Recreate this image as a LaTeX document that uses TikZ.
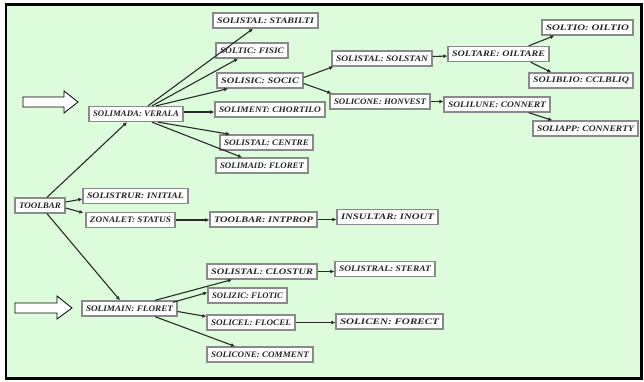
\documentclass[tikz,border=0pt]{standalone}
\usepackage{fontspec}
\setmainfont{Liberation Serif}
\usetikzlibrary{calc,arrows.meta}
\definecolor{panel}{HTML}{DCFCDC}
\definecolor{boxline}{HTML}{8A8A8A}
\definecolor{wire}{HTML}{2A2A2A}
\tikzset{
  box/.style={draw=boxline, line width=1.3pt, fill=white, inner sep=0pt,
    minimum height=15pt, font=\bfseries\itshape, text=black!85},
  wire/.style={draw=wire, line width=1.1pt, -{Latex[length=4pt,width=4pt]}},
  hollow/.style={draw=black, line width=0.8pt, fill=white}
}
% a labelled box whose text is stretched to the box width
\newcommand\nodebox[4]{%
  \node[box, minimum width=#2pt] (#1) at #3
    {\resizebox{\dimexpr #2pt-8pt\relax}{5.6pt}{#4}};}
\begin{document}
\begin{tikzpicture}[x=1pt,y=-1pt]
\useasboundingbox (0,0) rectangle (644,381);
% panel and frame
\fill[white] (0,0) rectangle (644,381);
\draw[fill=panel, line width=2.6pt] (6,4.5) rectangle (641.5,378.5);

% pointer arrows
\draw[hollow] (23,97) -- (64,97) -- (64,91) -- (78,102) -- (64,113) -- (64,107) -- (23,107) -- cycle;
\draw[hollow] (15,303) -- (57,303) -- (57,296) -- (72,308) -- (57,319) -- (57,313) -- (15,313) -- cycle;

% nodes
\nodebox{root}{50}{(40,205.5)}{TOOLBAR}
\nodebox{vera}{94}{(136,114)}{SOLIMADA: VERALA}
\nodebox{main}{95}{(129.5,308.5)}{SOLIMAIN: FLORET}
\nodebox{init}{105}{(135.5,196)}{SOLISTRUR: INITIAL}
\nodebox{stat}{89}{(130.5,220)}{ZONALET: STATUS}
\nodebox{intp}{107}{(263.5,219.5)}{TOOLBAR: INTPROP}
\nodebox{inout}{101}{(387.5,217)}{INSULTAR: INOUT}
\nodebox{stab}{105}{(265.5,20.5)}{SOLISTAL: STABILTI}
\nodebox{fisic}{72}{(252,50.5)}{SOLTIC: FISIC}
\nodebox{socic}{86}{(260,80.5)}{SOLISIC: SOCIC}
\nodebox{chort}{110}{(270,109.5)}{SOLIMENT: CHORTILO}
\nodebox{centre}{93}{(266.5,142.5)}{SOLISTAL: CENTRE}
\nodebox{floret}{92}{(262,165.5)}{SOLIMAID: FLORET}
\nodebox{solstan}{100}{(382,58.5)}{SOLISTAL: SOLSTAN}
\nodebox{oiltare}{101}{(498.5,54)}{SOLTARE: OILTARE}
\nodebox{oiltio}{91}{(587.5,27.5)}{SOLTIO: OILTIO}
\nodebox{cclbliq}{104}{(581,80.5)}{SOLIBLIO: CCLBLIQ}
\nodebox{honvest}{100}{(380,101.5)}{SOLICONE: HONVEST}
\nodebox{connert}{106}{(497,104.5)}{SOLILUNE: CONNERT}
\nodebox{connerty}{105}{(585.5,128.5)}{SOLIAPP: CONNERTY}
\nodebox{clostur}{110}{(262,271.5)}{SOLISTAL: CLOSTUR}
\nodebox{flotic}{79}{(247.5,295.5)}{SOLIZIC: FLOTIC}
\nodebox{flocel}{88}{(251,322.5)}{SOLICEL: FLOCEL}
\nodebox{comment}{106}{(260,354.5)}{SOLICONE: COMMENT}
\nodebox{sterat}{100}{(385,269)}{SOLISTRAL: STERAT}
\nodebox{forect}{107}{(389.5,321.5)}{SOLICEN: FORECT}

% connectors from the root
\draw[wire] ($(root.north)+(7,0)$) -- ($(vera.south)+(-9,0)$);
\draw[wire] ($(root.east)+(0,-3.5)$) -- ($(init.west)+(0,3)$);
\draw[wire] ($(root.east)+(0,2.5)$) -- ($(stat.north west)+(-2,1)$);
\draw[wire] ($(root.south)+(7,0)$) -- ($(main.north)+(-9.5,0)$);

% upper branch
\draw[wire] ($(vera.north)+(12,0)$) -- ($(stab.south)+(-12.5,0)$);
\draw[wire] ($(vera.north)+(16,0)$) -- ($(fisic.south)+(-14,0)$);
\draw[wire] ($(vera.north)+(20,0)$) -- ($(socic.south)+(-32,0)$);
\draw[wire] ($(vera.east)+(0,-2)$) -- ($(chort.west)+(0,2.5)$);
\draw[wire] ($(vera.south)+(22,0)$) -- ($(centre.north)+(-36.5,0)$);
\draw[wire] ($(vera.south)+(16,0)$) -- ($(floret.north)+(-20,0)$);
\draw[wire] ($(socic.east)+(0,-3)$) -- ($(solstan.south west)+(2,0)$);
\draw[wire] ($(socic.east)+(0,3)$) -- ($(honvest.north west)+(2,0)$);
\draw[wire] ($(solstan.east)+(0,-2)$) -- ($(oiltare.west)+(0,2)$);
\draw[wire] ($(oiltare.north east)+(-21,0)$) -- ($(oiltio.south west)+(13,0)$);
\draw[wire] ($(oiltare.south east)+(-19,0)$) -- ($(cclbliq.north west)+(23,0)$);
\draw[wire] (honvest.east) -- ($(connert.west)+(0,-3)$);
\draw[wire] ($(connert.south east)+(-22,0)$) -- ($(connerty.north west)+(20,0)$);

% middle branch
\draw[wire] (stat.east) -- (stat.east -| intp.west);
\draw[wire] (intp.east) -- (intp.east -| inout.west);

% lower branch
\draw[wire] ($(main.north)+(25.5,0)$) -- ($(clostur.south)+(-30,0)$);
\draw[wire] ($(main.north east)+(-5,2)$) -- ($(flotic.west)+(0,-3)$);
\draw[wire] ($(main.east)+(0,3)$) -- ($(flocel.west)+(0,-6)$);
\draw[wire] ($(main.south)+(25.5,0)$) -- ($(comment.north)+(-25,0)$);
\draw[wire] (clostur.east) -- (clostur.east -| sterat.west);
\draw[wire] (flocel.east) -- (flocel.east -| forect.west);
\end{tikzpicture}
\end{document}
